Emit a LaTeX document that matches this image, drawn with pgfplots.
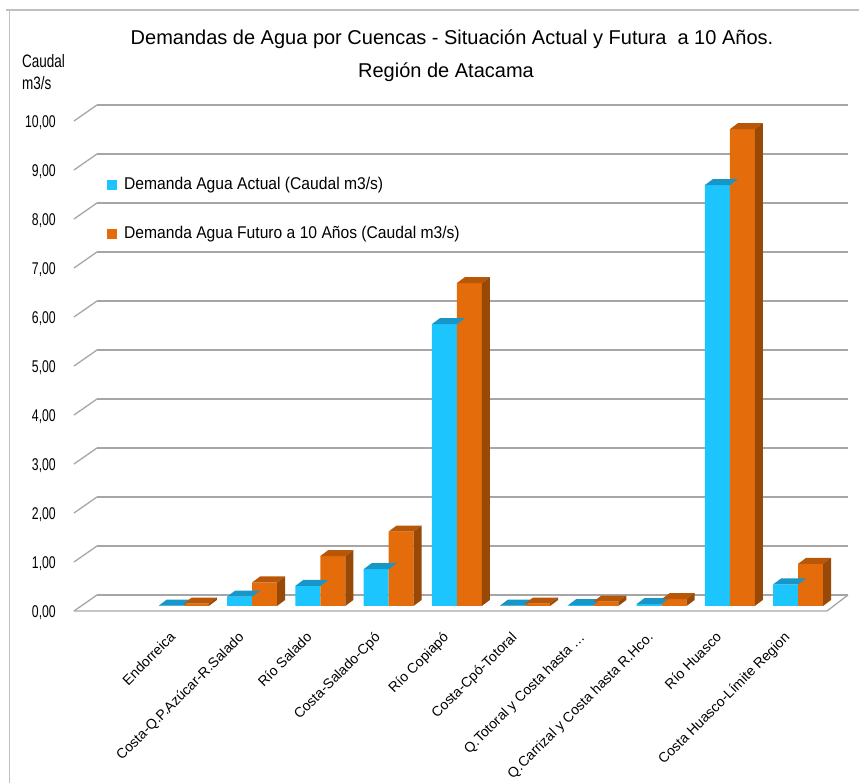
\documentclass[border=0pt]{standalone}
\usepackage{fontspec}
\setmainfont{Liberation Sans}
\newfontfamily\narrowfont[FakeStretch=0.72]{Liberation Sans}
\newfontfamily\legendfont[FakeStretch=0.92]{Liberation Sans}
\newfontfamily\unitfont[FakeStretch=0.75]{Liberation Sans}
\usepackage{pgfplots}
\usepackage{pgfplotstable}
\pgfplotsset{compat=1.18}

\definecolor{actualfront}{RGB}{28,197,253}
\definecolor{actualtop}{RGB}{24,150,200}
\definecolor{futurefront}{RGB}{228,108,10}
\definecolor{futuretop}{RGB}{185,87,9}
\definecolor{futureside}{RGB}{152,72,7}
\definecolor{gridgray}{RGB}{166,166,166}
\definecolor{framegray}{RGB}{192,192,192}

% y unit of the column axis, pt per m3/s
\def\yunit{49}

% demand per basin, m3/s
\pgfplotstableread{
i act fut
0 0.01 0.05
1 0.19 0.48
2 0.41 1.02
3 0.75 1.52
4 5.75 6.59
5 0.01 0.05
6 0.02 0.09
7 0.04 0.14
8 8.59 9.73
9 0.44 0.86
}\cuencas

% top face of the "actual" column (mark sits at the category centre)
\pgfdeclareplotmark{actualtop}{%
  \pgfpathmoveto{\pgfpoint{-25pt}{0pt}}%
  \pgfpathlineto{\pgfpoint{0pt}{0pt}}%
  \pgfpathlineto{\pgfpoint{8pt}{6pt}}%
  \pgfpathlineto{\pgfpoint{-17pt}{6pt}}%
  \pgfpathclose
  \pgfsetfillcolor{actualtop}%
  \pgfusepath{fill}%
}
% top and side faces of the "future" column; \colval is the column value
\pgfdeclareplotmark{futuretop}{%
  \pgfmathsetmacro\colh{\colval*\yunit}%
  \pgfpathmoveto{\pgfpoint{0pt}{0pt}}%
  \pgfpathlineto{\pgfpoint{25pt}{0pt}}%
  \pgfpathlineto{\pgfpoint{33pt}{6pt}}%
  \pgfpathlineto{\pgfpoint{8pt}{6pt}}%
  \pgfpathclose
  \pgfsetfillcolor{futuretop}%
  \pgfusepath{fill}%
  \pgfpathmoveto{\pgfpoint{25pt}{0pt}}%
  \pgfpathlineto{\pgfpoint{33pt}{6pt}}%
  \pgfpathlineto{\pgfpoint{33pt}{6pt-\colh pt}}%
  \pgfpathlineto{\pgfpoint{25pt}{-\colh pt}}%
  \pgfpathclose
  \pgfsetfillcolor{futureside}%
  \pgfusepath{fill}%
}

\begin{document}
\begin{tikzpicture}[x=1pt,y=1pt]
\path[use as bounding box] (0,0) rectangle (859,783);

% sheet frame
\draw[framegray, line width=1.2pt] (6,773) -- (859,773);
\draw[framegray, line width=1.2pt] (9.5,773) -- (9.5,0);

% titles
\node[anchor=base, font=\fontsize{20}{20}\selectfont] at (452,738)
  {Demandas de Agua por Cuencas - Situación Actual y Futura\ \ a 10 Años.};
\node[anchor=base, font=\fontsize{20}{20}\selectfont] at (446,705.5)
  {Región de Atacama};
\node[anchor=base west, inner sep=0pt, font=\unitfont\fontsize{18}{18}\selectfont] at (22,715) {Caudal};
\node[anchor=base west, inner sep=0pt, font=\unitfont\fontsize{18}{18}\selectfont] at (22,693) {m3/s};

% back wall with the value grid
\begin{axis}[
  at={(97pt,188pt)}, anchor=south west,
  scale only axis, width=751pt, height=490pt,
  xmin=0, xmax=1, ymin=0, ymax=10,
  axis line style={draw=none}, xtick=\empty,
  ytick={0,1,...,10}, ymajorgrids,
  grid style={gridgray, line width=1.5pt},
  major tick length=0pt,
  yticklabel={\pgfmathprintnumber[fixed,fixed zerofill,precision=2,use comma,assume math mode=true]{\tick}},
  yticklabel style={font=\narrowfont\fontsize{17}{17}\selectfont, anchor=east, inner sep=0pt, xshift=-41pt, yshift=-18pt},
  clip=false,
]
\pgfplotsinvokeforeach{0,1,...,10}{
  \draw[gridgray, line width=1.3pt] (axis cs:0,#1) -- ++(-23pt,-16pt);
}
\end{axis}

% floor edges
\draw[gridgray, line width=1.3pt] (74,172) -- (827,172) -- (848,188);

% columns
\begin{axis}[
  at={(149.7pt,177pt)}, anchor=south west,
  scale only axis, width=682.5pt, height=490pt,
  xmin=-0.5, xmax=9.5, ymin=0, ymax=10,
  axis line style={draw=none}, major tick length=0pt,
  ytick=\empty,
  xtick={0,1,...,9},
  xticklabels={Endorreica, Costa-Q.P.Azúcar-R.Salado, Río Salado, Costa-Salado-Cpó, Río Copiapó, Costa-Cpó-Totoral, Q.Totoral y Costa hasta …, Q.Carrizal y Costa hasta R.Hco., Río Huasco, Costa Huasco-Límite Region},
  xticklabel style={rotate=45, anchor=north east, inner sep=0pt, font=\fontsize{14}{14}\selectfont, xshift=-28pt, yshift=-7pt},
  clip=false,
  legend image code/.code={\fill[#1] (0pt,-5pt) rectangle (10pt,5pt);},
  legend style={at={(axis description cs:-0.0626,0.8755)}, anchor=north west,
    draw=none, fill=none, inner sep=0pt,
    font=\legendfont\fontsize{17}{17}\selectfont,
    nodes={inner sep=0pt, text height=12.5pt, text depth=4pt},
    /tikz/row sep=32.5pt, /tikz/column sep=7pt},
  legend cell align=left,
]
\addlegendimage{fill=actualfront, draw=none}
\addlegendentry{Demanda Agua Actual (Caudal m3/s)}
\addlegendimage{fill=futurefront, draw=none}
\addlegendentry{Demanda Agua Futuro a 10 Años (Caudal m3/s)}

\addplot[ybar, bar width=25pt, bar shift=-12.5pt, fill=actualfront, draw=none, forget plot]
  table[x=i, y=act] {\cuencas};
\addplot[only marks, mark=actualtop, forget plot]
  table[x=i, y=act] {\cuencas};
\addplot[ybar, bar width=25pt, bar shift=12.5pt, fill=futurefront, draw=none, forget plot]
  table[x=i, y=fut] {\cuencas};
\addplot[only marks, mark=futuretop, forget plot,
  visualization depends on={\thisrow{fut} \as \colval}]
  table[x=i, y=fut] {\cuencas};
\end{axis}
\end{tikzpicture}
\end{document}
